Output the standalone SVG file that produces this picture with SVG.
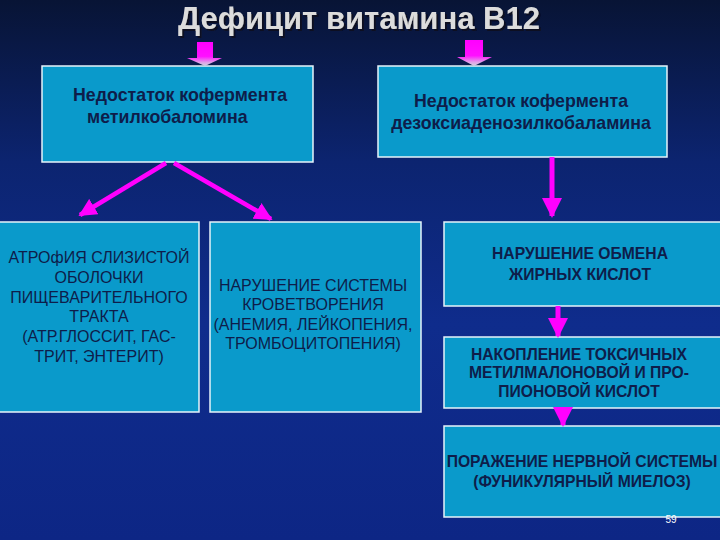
<svg xmlns="http://www.w3.org/2000/svg" width="720" height="540" viewBox="0 0 720 540">
<defs>
<linearGradient id="bg" x1="0" y1="0" x2="0" y2="1">
<stop offset="0" stop-color="#081435"/>
<stop offset="0.3" stop-color="#0c2470"/>
<stop offset="0.6" stop-color="#0f2c8c"/>
<stop offset="1" stop-color="#0d2685"/>
</linearGradient>
<linearGradient id="blk" x1="0" y1="0" x2="0" y2="1">
<stop offset="0" stop-color="#ff00ff"/>
<stop offset="0.6" stop-color="#ff10ff"/>
<stop offset="0.85" stop-color="#e0a0e8"/>
<stop offset="1" stop-color="#d0d0e0"/>
</linearGradient>
<filter id="sh" x="-5%" y="-20%" width="110%" height="150%">
<feDropShadow dx="2" dy="2" stdDeviation="0.6" flood-color="#10101a" flood-opacity="0.9"/>
</filter>
<marker id="ah" viewBox="0 0 10 10" refX="9" refY="5" markerWidth="4" markerHeight="4" orient="auto" markerUnits="strokeWidth">
<path d="M0,0 L10,5 L0,10 z" fill="#ff00ff"/>
</marker>
<style>
.box{fill:#0a9acb;stroke:#e6f4fa;stroke-width:1.5}
.t{font-family:"Liberation Sans",Arial,sans-serif;fill:#0e1d4a}
.b{font-weight:bold;font-size:17.8px}
.n{font-size:16px;text-anchor:middle}
.s{font-weight:bold;font-size:15.7px;text-anchor:middle}
.con{stroke:#ff00ff;fill:none}
</style>
</defs>
<rect width="720" height="540" fill="url(#bg)"/>
<g id="title">
<text x="359" y="29" text-anchor="middle" font-family="'Liberation Sans',Arial,sans-serif" font-weight="bold" font-size="31" fill="#dcdcdc" filter="url(#sh)">Дефицит витамина В12</text>
</g>
<g id="box1">
<rect class="box" x="42" y="66" width="271" height="96"/>
<text class="t b" x="73" y="101">Недостаток кофермента</text>
<text class="t b" x="87" y="123">метилкобаломина</text>
</g>
<g id="box2">
<rect class="box" x="378" y="66" width="289" height="91"/>
<text class="t b" x="521" y="107" text-anchor="middle">Недостаток кофермента</text>
<text class="t b" x="521" y="129" text-anchor="middle">дезоксиаденозилкобаламина</text>
</g>
<g id="box3">
<rect class="box" x="-2" y="222" width="201" height="190"/>
<text class="t n" x="99" y="263">АТРОфИЯ СЛИЗИСТОЙ</text>
<text class="t n" x="99" y="283">ОБОЛОЧКИ</text>
<text class="t n" x="99" y="303">ПИЩЕВАРИТЕЛЬНОГО</text>
<text class="t n" x="99" y="322">ТРАКТА</text>
<text class="t n" x="99" y="342">(АТР.ГЛОССИТ, ГАС-</text>
<text class="t n" x="99" y="362">ТРИТ, ЭНТЕРИТ)</text>
</g>
<g id="box4">
<rect class="box" x="210" y="222" width="211" height="190"/>
<text class="t n" x="313" y="291">НАРУШЕНИЕ СИСТЕМЫ</text>
<text class="t n" x="313" y="310">КРОВЕТВОРЕНИЯ</text>
<text class="t n" x="313" y="330">(АНЕМИЯ, ЛЕЙКОПЕНИЯ,</text>
<text class="t n" x="313" y="349">ТРОМБОЦИТОПЕНИЯ)</text>
</g>
<g id="box5">
<rect class="box" x="444" y="222" width="280" height="84"/>
<text class="t s" x="580" y="259">НАРУШЕНИЕ ОБМЕНА</text>
<text class="t s" x="580" y="280">ЖИРНЫХ КИСЛОТ</text>
</g>
<g id="box6">
<rect class="box" x="444" y="337" width="280" height="71"/>
<text class="t s" x="579" y="360">НАКОПЛЕНИЕ ТОКСИЧНЫХ</text>
<text class="t s" x="579" y="378">МЕТИЛМАЛОНОВОЙ И ПРО-</text>
<text class="t s" x="579" y="397">ПИОНОВОЙ КИСЛОТ</text>
</g>
<g id="box7">
<rect class="box" x="444" y="426" width="280" height="91"/>
<text class="t s" x="582" y="467">ПОРАЖЕНИЕ НЕРВНОЙ СИСТЕМЫ</text>
<text class="t s" x="582" y="487">(ФУНИКУЛЯРНЫЙ МИЕЛОЗ)</text>
</g>
<g id="connectors">
<polygon points="197,42 213,42 213,58 222,58 205,66 187,58 197,58" fill="url(#blk)"/>
<polygon points="465,40 483,40 483,57 492,57 474,66 457,57 465,57" fill="url(#blk)"/>
<line class="con" x1="166" y1="163" x2="80" y2="215" stroke-width="4.5" marker-end="url(#ah)"/>
<line class="con" x1="174" y1="163" x2="271" y2="219" stroke-width="4.5" marker-end="url(#ah)"/>
<line class="con" x1="552" y1="157" x2="552" y2="216" stroke-width="5" marker-end="url(#ah)"/>
<line class="con" x1="558" y1="306" x2="558" y2="336" stroke-width="5" marker-end="url(#ah)"/>
<line class="con" x1="563" y1="408" x2="563" y2="425" stroke-width="5" marker-end="url(#ah)"/>
</g>
<text x="671" y="523" text-anchor="middle" font-family="'Liberation Sans',Arial,sans-serif" font-size="10" fill="#ffffff">59</text>
</svg>
